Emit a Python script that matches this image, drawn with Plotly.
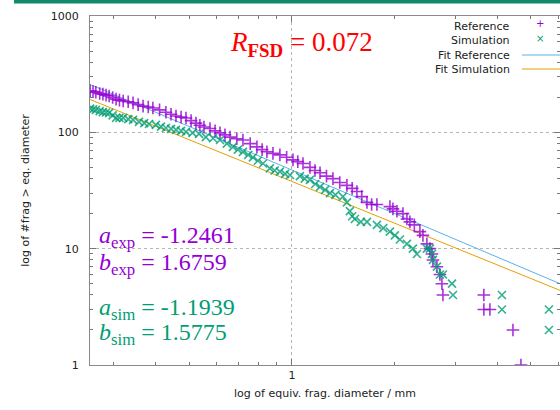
import math
import plotly.graph_objects as go

# ---------------- data ----------------
ref_d = [0.257, 0.262, 0.267, 0.274, 0.280, 0.286, 0.292, 0.299, 0.306, 0.313,
         0.321, 0.332, 0.343, 0.355, 0.367, 0.380, 0.392, 0.410, 0.428, 0.443,
         0.458, 0.474, 0.490, 0.507, 0.524, 0.538, 0.553, 0.576, 0.596, 0.616,
         0.637, 0.659, 0.690, 0.719, 0.755, 0.790, 0.818, 0.845, 0.880, 0.922,
         0.965, 1.007, 1.040, 1.077, 1.129, 1.168, 1.208, 1.262, 1.318, 1.380,
         1.448, 1.500, 1.549, 1.600, 1.657, 1.710, 1.772, 1.934, 1.974, 2.028,
         2.112, 2.169, 2.213, 2.280, 2.367, 2.416, 2.481, 2.532, 2.566, 2.584,
         2.654, 2.708, 2.745, 2.764, 3.641, 3.641, 3.793, 4.429, 4.674]
ref_n = [228, 224, 221, 216, 213, 209, 205, 199, 193, 189,
         186, 183, 179, 173, 168, 165, 162, 156, 149, 143,
         138, 135, 133, 126, 120, 115, 111, 108, 103, 99,
         95, 91, 88, 86, 80, 75, 71, 68, 66, 64,
         61, 58, 56, 54, 50, 47, 45, 42, 40, 37,
         35, 33, 31, 28, 25, 24, 24, 23, 22, 21,
         20, 18, 17, 16, 14, 13, 11, 10, 9, 8,
         7, 6, 5, 4, 4, 3, 3, 2, 1]

sim_d = [0.257, 0.262, 0.267, 0.274, 0.280, 0.286, 0.292, 0.299, 0.306, 0.313,
         0.321, 0.332, 0.343, 0.357, 0.370, 0.382, 0.400, 0.414, 0.428, 0.443,
         0.458, 0.474, 0.490, 0.512, 0.535, 0.560, 0.588, 0.616, 0.645, 0.672,
         0.695, 0.719, 0.745, 0.769, 0.795, 0.823, 0.862, 0.890, 0.922, 0.955,
         0.987, 1.055, 1.090, 1.129, 1.170, 1.208, 1.250, 1.292, 1.340, 1.409,
         1.448, 1.477, 1.500, 1.528, 1.590, 1.657, 1.772, 1.850, 1.934, 2.000,
         2.069, 2.169, 2.258, 2.320, 2.481, 2.532, 2.566, 2.584, 2.654, 2.708,
         2.764, 2.938, 2.958, 4.112, 4.112, 5.643, 5.643]
sim_n = [160, 158, 156, 152, 149, 148, 147, 140, 133, 133,
         133, 130, 128, 123, 120, 118, 116, 112, 109, 107,
         105, 103, 101, 99, 97, 91, 89, 86, 80, 75,
         71, 68, 64, 61, 57, 54, 49, 47, 46, 44,
         43, 42, 40, 39, 36, 34, 32, 30, 29, 28,
         25, 21, 19, 18, 17, 17, 16, 15, 14, 13,
         12, 11, 10, 9, 10, 10, 9, 8, 7, 6,
         6, 5, 4, 4, 3, 3, 2]

# fit parameters (log10 N = b + a * log10 d)
a_exp, b_exp = -1.2461, 1.6759
a_sim, b_sim = -1.1939, 1.5775
r_fsd = 0.072
fit_d = [0.25, 6.5]

x_labels = [1]
y_labels = [1, 10, 100, 1000]

PURPLE = "#9400d3"
GREEN = "#009e73"
BLUE = "#56b4e9"
ORANGE = "#e69f00"

fit_ref = [10 ** (b_exp + a_exp * math.log10(d)) for d in fit_d]
fit_sim = [10 ** (b_sim + a_sim * math.log10(d)) for d in fit_d]

fig = go.Figure()
fig.add_trace(go.Scatter(x=fit_d, y=fit_ref, mode="lines",
                         line=dict(color=BLUE, width=1), name="Fit Reference"))
fig.add_trace(go.Scatter(x=fit_d, y=fit_sim, mode="lines",
                         line=dict(color=ORANGE, width=1), name="Fit Simulation"))
fig.add_trace(go.Scatter(x=ref_d, y=ref_n, mode="markers", name="Reference",
                         marker=dict(symbol="cross-thin", size=9, opacity=0.8,
                                     line=dict(color=PURPLE, width=1.6))))
fig.add_trace(go.Scatter(x=sim_d, y=sim_n, mode="markers", name="Simulation",
                         marker=dict(symbol="x-thin", size=8, opacity=0.8,
                                     line=dict(color=GREEN, width=1.6))))

L, R, T, B = 90, 0, 16, 45
W, H = 560, 410
pw, ph = W - L - R, H - T - B


def px(x):
    return (x - L) / pw


def py(y):
    return (H - B - y) / ph


axis_common = dict(
    type="log", showline=True, linecolor="#8a8a8a", linewidth=1,
    mirror="allticks", ticks="inside", ticklen=6, tickcolor="#777",
    showgrid=True, gridcolor="#b5b5b5", griddash="dot", gridwidth=1,
    zeroline=False, tickfont=dict(family="DejaVu Sans", size=11, color="#222"),
)

fig.update_xaxes(
    **axis_common,
    range=[math.log10(0.2567), math.log10(6.08)],
    tickvals=x_labels, ticktext=[str(v) for v in x_labels],
    minor=dict(tickvals=[0.3, 0.4, 0.5, 0.6, 0.7, 0.8, 0.9, 2, 3, 4, 5, 6],
               ticks="inside", ticklen=3, tickcolor="#777", showgrid=False),
    title=dict(text="log of equiv. frag. diameter / mm", standoff=8,
               font=dict(family="DejaVu Sans", size=11, color="#222")),
)
fig.update_yaxes(
    **axis_common,
    range=[0, 3],
    tickvals=y_labels, ticktext=[str(v) for v in y_labels],
    minor=dict(tickvals=[m * 10 ** e for e in range(3) for m in range(2, 10)],
               ticks="inside", ticklen=3, tickcolor="#777", showgrid=False),
    ticklabelstandoff=8,
    title=dict(text="log of #frag > eq. diameter", standoff=18,
               font=dict(family="DejaVu Sans", size=11, color="#222")),
)

annotations = []
# legend (gnuplot style: text right-aligned, sample on the right)
leg_rows = [("Reference", 26), ("Simulation", 40.5), ("Fit Reference", 55), ("Fit Simulation", 69)]
for txt, yy in leg_rows:
    annotations.append(dict(x=px(512), y=py(yy), xref="paper", yref="paper",
                            text=txt, showarrow=False, xanchor="right", yanchor="middle",
                            font=dict(family="DejaVu Sans", size=11, color="#222")))
annotations.append(dict(x=px(540), y=py(24), xref="paper", yref="paper", text="+",
                        showarrow=False, xanchor="center", yanchor="middle",
                        font=dict(family="DejaVu Sans", size=10, color=PURPLE)))
annotations.append(dict(x=px(540), y=py(38.5), xref="paper", yref="paper", text="×",
                        showarrow=False, xanchor="center", yanchor="middle",
                        font=dict(family="DejaVu Sans", size=10, color=GREEN)))

MATH = "Liberation Serif"
annotations.append(dict(x=px(301), y=py(44), xref="paper", yref="paper",
                        text=f"<i>R</i><sub><b>FSD</b></sub> = {r_fsd:.3f}",
                        showarrow=False, xanchor="center", yanchor="middle",
                        font=dict(family=MATH, size=27, color="#ff0000")))
params = [(f"<i>a</i><sub>exp</sub> = {a_exp:.4f}", 237, PURPLE),
          (f"<i>b</i><sub>exp</sub> = {b_exp:.4f}", 264, PURPLE),
          (f"<i>a</i><sub>sim</sub> = {a_sim:.4f}", 309, GREEN),
          (f"<i>b</i><sub>sim</sub> = {b_sim:.4f}", 334, GREEN)]
for txt, yy, col in params:
    annotations.append(dict(x=px(97), y=py(yy), xref="paper", yref="paper", text=txt,
                            showarrow=False, xanchor="left", yanchor="middle",
                            font=dict(family=MATH, size=24, color=col)))

shapes = [
    dict(type="line", xref="paper", yref="paper", x0=px(522), x1=px(560),
         y0=py(55), y1=py(55), line=dict(color=BLUE, width=1)),
    dict(type="line", xref="paper", yref="paper", x0=px(522), x1=px(560),
         y0=py(69), y1=py(69), line=dict(color=ORANGE, width=1)),
    dict(type="rect", xref="paper", yref="paper", x0=px(14), x1=px(560),
         y0=py(3.5), y1=py(0), line=dict(width=0), fillcolor="#138a6b", layer="above"),
]

fig.update_layout(
    width=W, height=H, margin=dict(l=L, r=R, t=T, b=B),
    paper_bgcolor="white", plot_bgcolor="white", showlegend=False,
    annotations=annotations, shapes=shapes,
)

fig.write_html("out.html")
